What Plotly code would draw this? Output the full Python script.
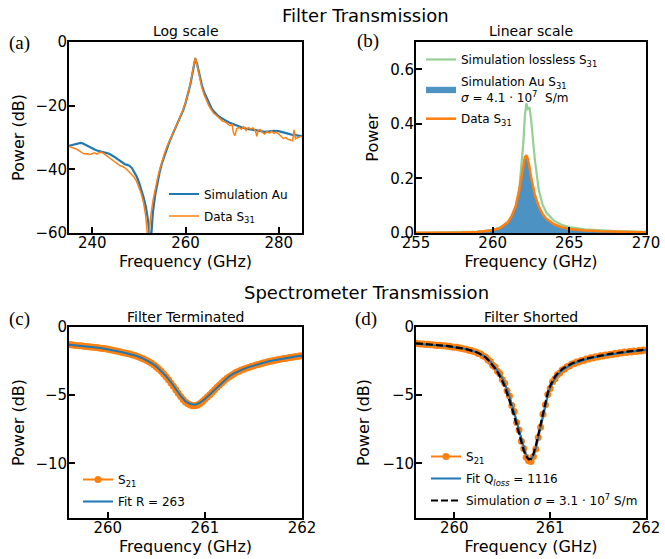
import plotly.graph_objects as go

# ---------------- Panel (a): Filter transmission, log scale ----------------
FREQ_A_SIM = [235.0, 235.5, 236.0, 236.5, 237.0, 237.5, 238.0, 238.5, 239.0, 239.5,
              240.0, 240.5, 241.0, 241.5, 242.0, 242.5, 243.0, 243.5, 244.0, 244.5,
              245.0, 245.5, 246.0, 246.5, 247.0, 247.5, 248.0, 248.5, 249.0, 249.5,
              250.0, 250.5, 251.0, 251.5, 252.0, 252.5, 253.0, 253.5, 254.0, 254.5,
              255.0, 255.5, 256.0, 256.5, 257.0, 257.5, 258.0, 258.5, 259.0, 259.5,
              260.0, 260.5, 261.0, 261.5, 262.0, 262.1, 262.5, 263.0, 263.5, 264.0,
              264.5, 265.0, 265.5, 266.0, 266.5, 267.0, 267.5, 268.0, 268.5, 269.0,
              269.5, 270.0, 271.0, 272.0, 273.0, 274.0, 275.0, 276.0, 277.0, 278.0,
              279.0, 280.0, 281.0, 282.0, 283.0, 284.0, 285.0]
SIM_AU_DB = [-32.6, -32.4, -32.2, -32.0, -31.8, -31.7, -31.9, -32.3, -32.8, -33.2,
             -33.5, -33.8, -34.1, -34.3, -34.4, -34.5, -34.7, -35.0, -35.4, -35.8,
             -36.3, -36.9, -37.5, -38.0, -38.4, -38.6, -38.9, -39.6, -40.7, -42.2,
             -44.0, -46.2, -48.8, -51.8, -56.5, -64.0, -53.5, -48.0, -43.8, -40.5,
             -37.8, -35.5, -33.5, -31.5, -29.8, -28.2, -26.6, -25.0, -23.3, -21.4,
             -19.2, -16.8, -13.6, -9.8, -5.5, -5.2, -7.0, -10.3, -13.5, -15.8,
             -17.6, -19.3, -20.6, -21.7, -22.5, -23.2, -23.7, -24.2, -24.6, -25.0,
             -25.4, -25.7, -26.3, -26.8, -27.2, -27.5, -27.8, -28.0, -28.2, -28.1,
             -27.9, -28.0, -28.3, -28.8, -29.2, -29.4, -29.6]

FREQ_A_DATA = [235.0, 235.5, 236.0, 236.5, 237.0, 237.5, 238.0, 238.5, 239.0, 239.5,
               240.0, 240.5, 241.0, 241.5, 242.0, 242.5, 243.0, 243.5, 244.0, 244.5,
               245.0, 245.5, 246.0, 246.5, 247.0, 247.5, 248.0, 248.5, 249.0, 249.5,
               250.0, 250.5, 251.0, 251.5, 252.0, 252.5, 253.0, 253.5, 254.0, 254.5,
               255.0, 255.5, 256.0, 256.5, 257.0, 257.5, 258.0, 258.5, 259.0, 259.5,
               260.0, 260.5, 261.0, 261.5, 262.0, 262.1, 262.5, 263.0, 263.5, 264.0,
               264.5, 265.0, 265.5, 266.0, 266.5, 267.0, 267.5, 268.0, 268.5, 269.0,
               269.5, 270.0, 270.3, 270.6, 271.0, 271.5, 272.0, 272.5, 273.0, 273.5,
               274.0, 274.5, 275.0, 275.3, 275.6, 276.0, 276.5, 277.0, 277.5, 278.0,
               278.5, 279.0, 279.5, 280.0, 280.5, 281.0, 281.5, 282.0, 282.5, 283.0,
               283.3, 283.6, 284.0, 284.5, 285.0]
DATA_A_DB = [-32.8, -33.0, -33.3, -33.6, -34.0, -34.6, -35.0, -35.2, -35.1, -35.3,
             -35.0, -34.8, -35.2, -34.7, -34.6, -35.0, -35.6, -36.2, -36.8, -37.4,
             -38.0, -38.6, -38.9, -39.1, -39.5, -40.2, -40.9, -41.6, -42.5, -43.8,
             -45.5, -47.6, -50.5, -55.0, -64.0, -55.0, -50.0, -46.0, -42.8, -39.8,
             -37.2, -35.0, -33.0, -31.2, -29.5, -28.0, -26.4, -24.8, -23.1, -21.2,
             -19.0, -16.6, -13.3, -9.4, -5.1, -4.9, -7.3, -10.8, -14.2, -16.6,
             -18.5, -20.0, -21.2, -22.3, -22.9, -23.6, -24.1, -24.9, -25.1, -25.8,
             -26.3, -25.9, -28.6, -29.4, -27.2, -26.8, -27.4, -26.6, -27.8, -26.9,
             -27.3, -27.0, -27.9, -29.6, -27.8, -27.5, -28.4, -28.9, -28.2, -28.6,
             -28.0, -28.7, -28.3, -28.9, -29.6, -30.3, -30.0, -30.6, -30.8, -31.0,
             -27.6, -30.4, -30.1, -29.9, -29.5]

# ---------------- Panel (b): Filter transmission, linear scale ----------------
FREQ_B = [255, 256, 257, 258, 259, 259.5, 260, 260.5, 261, 261.25, 261.5, 261.75,
          262, 262.1, 262.2, 262.3, 262.4, 262.5, 262.75, 263, 263.25, 263.5, 264,
          264.5, 265, 266, 267, 268, 269, 270]
LOSSLESS_B = [0.001, 0.002, 0.002, 0.003, 0.005, 0.008, 0.012, 0.020, 0.040, 0.062,
              0.095, 0.170, 0.330, 0.430, 0.475, 0.455, 0.460, 0.420, 0.270, 0.160,
              0.105, 0.075, 0.045, 0.030, 0.022, 0.013, 0.009, 0.007, 0.005, 0.004]
AU_B = [0.001, 0.001, 0.001, 0.002, 0.004, 0.005, 0.009, 0.017, 0.036, 0.058,
        0.092, 0.150, 0.240, 0.270, 0.275, 0.262, 0.232, 0.198, 0.135, 0.095,
        0.068, 0.050, 0.031, 0.020, 0.014, 0.008, 0.005, 0.004, 0.003, 0.003]
DATA_B = [0.001, 0.001, 0.001, 0.002, 0.004, 0.006, 0.010, 0.019, 0.040, 0.063,
          0.098, 0.160, 0.250, 0.278, 0.285, 0.270, 0.240, 0.205, 0.140, 0.098,
          0.070, 0.052, 0.032, 0.021, 0.015, 0.009, 0.006, 0.005, 0.004, 0.003]

# ---------------- Panels (c), (d): Spectrometer transmission ----------------
FREQ_CD = [259.600, 259.625, 259.650, 259.675, 259.700, 259.725, 259.750, 259.775, 259.800, 259.825,
           259.850, 259.875, 259.900, 259.925, 259.950, 259.975, 260.000, 260.025, 260.050, 260.075,
           260.100, 260.125, 260.150, 260.175, 260.200, 260.225, 260.250, 260.275, 260.300, 260.325,
           260.350, 260.375, 260.400, 260.425, 260.450, 260.475, 260.500, 260.525, 260.550, 260.575,
           260.600, 260.625, 260.650, 260.675, 260.700, 260.725, 260.750, 260.775, 260.800, 260.825,
           260.850, 260.875, 260.900, 260.925, 260.950, 260.975, 261.000, 261.025, 261.050, 261.075,
           261.100, 261.125, 261.150, 261.175, 261.200, 261.225, 261.250, 261.275, 261.300, 261.325,
           261.350, 261.375, 261.400, 261.425, 261.450, 261.475, 261.500, 261.525, 261.550, 261.575,
           261.600, 261.625, 261.650, 261.675, 261.700, 261.725, 261.750, 261.775, 261.800, 261.825,
           261.850, 261.875, 261.900, 261.925, 261.950, 261.975, 262.000]

S21_C = [-1.28, -1.31, -1.33, -1.35, -1.37, -1.37, -1.41, -1.43, -1.45, -1.46,
         -1.49, -1.51, -1.53, -1.55, -1.58, -1.60, -1.63, -1.66, -1.70, -1.74,
         -1.78, -1.81, -1.86, -1.90, -1.94, -1.98, -2.04, -2.09, -2.15, -2.21,
         -2.29, -2.37, -2.46, -2.55, -2.66, -2.79, -2.93, -3.08, -3.25, -3.44,
         -3.64, -3.86, -4.10, -4.35, -4.60, -4.86, -5.10, -5.32, -5.50, -5.63,
         -5.72, -5.78, -5.78, -5.72, -5.60, -5.46, -5.30, -5.13, -4.96, -4.78,
         -4.60, -4.42, -4.25, -4.08, -3.93, -3.78, -3.65, -3.53, -3.42, -3.32,
         -3.24, -3.16, -3.09, -3.02, -2.96, -2.90, -2.85, -2.79, -2.74, -2.69,
         -2.64, -2.60, -2.55, -2.51, -2.47, -2.43, -2.40, -2.36, -2.33, -2.30,
         -2.27, -2.24, -2.21, -2.18, -2.16, -2.13, -2.11]

FREQ_C_FIT = [259.60, 259.65, 259.70, 259.75, 259.80, 259.85, 259.90, 259.95, 260.00, 260.05,
              260.10, 260.15, 260.20, 260.25, 260.30, 260.35, 260.40, 260.45, 260.50, 260.55,
              260.60, 260.65, 260.70, 260.75, 260.80, 260.85, 260.90, 260.95, 261.00, 261.05,
              261.10, 261.15, 261.20, 261.25, 261.30, 261.35, 261.40, 261.45, 261.50, 261.55,
              261.60, 261.65, 261.70, 261.75, 261.80, 261.85, 261.90, 261.95, 262.00]
FIT_C = [-1.30, -1.33, -1.36, -1.40, -1.44, -1.48, -1.52, -1.57, -1.62, -1.69,
         -1.77, -1.85, -1.93, -2.02, -2.13, -2.27, -2.44, -2.64, -2.90, -3.22,
         -3.60, -4.05, -4.55, -5.05, -5.45, -5.65, -5.70, -5.55, -5.28, -4.95,
         -4.58, -4.22, -3.90, -3.62, -3.40, -3.22, -3.07, -2.94, -2.83, -2.72,
         -2.62, -2.53, -2.45, -2.38, -2.31, -2.25, -2.19, -2.14, -2.10]

S21_D = [-1.20, -1.22, -1.25, -1.24, -1.28, -1.27, -1.31, -1.30, -1.33, -1.35,
         -1.34, -1.38, -1.38, -1.42, -1.42, -1.46, -1.48, -1.49, -1.54, -1.55,
         -1.62, -1.63, -1.70, -1.72, -1.80, -1.83, -1.94, -1.98, -2.12, -2.20,
         -2.40, -2.52, -2.80, -2.93, -3.25, -3.43, -3.85, -4.12, -4.68, -5.05,
         -5.75, -6.20, -7.00, -7.55, -8.38, -8.90, -9.55, -9.80, -9.85, -9.50,
         -8.95, -8.10, -7.35, -6.40, -5.70, -4.95, -4.50, -4.02, -3.80, -3.50,
         -3.38, -3.16, -3.08, -2.91, -2.86, -2.72, -2.69, -2.57, -2.56, -2.45,
         -2.45, -2.35, -2.35, -2.26, -2.27, -2.18, -2.19, -2.11, -2.13, -2.05,
         -2.07, -1.99, -2.01, -1.93, -1.96, -1.88, -1.91, -1.84, -1.87, -1.80,
         -1.83, -1.76, -1.79, -1.72, -1.75, -1.69, -1.71]
FIT_D = [-1.22, -1.23, -1.24, -1.25, -1.27, -1.28, -1.29, -1.31, -1.32, -1.34,
         -1.35, -1.37, -1.39, -1.41, -1.43, -1.45, -1.47, -1.50, -1.53, -1.56,
         -1.60, -1.64, -1.68, -1.73, -1.78, -1.84, -1.91, -1.99, -2.09, -2.21,
         -2.36, -2.54, -2.74, -2.95, -3.18, -3.45, -3.76, -4.14, -4.58, -5.08,
         -5.62, -6.22, -6.88, -7.56, -8.24, -8.88, -9.38, -9.68, -9.70, -9.42,
         -8.88, -8.14, -7.30, -6.45, -5.65, -4.98, -4.45, -4.05, -3.76, -3.53,
         -3.34, -3.18, -3.05, -2.93, -2.83, -2.74, -2.66, -2.59, -2.53, -2.47,
         -2.42, -2.37, -2.32, -2.28, -2.24, -2.20, -2.16, -2.13, -2.10, -2.07,
         -2.04, -2.01, -1.98, -1.95, -1.93, -1.90, -1.88, -1.86, -1.84, -1.82,
         -1.80, -1.78, -1.76, -1.74, -1.72, -1.70, -1.68]
SIM_D = [-1.20, -1.21, -1.22, -1.24, -1.25, -1.26, -1.28, -1.29, -1.31, -1.32,
         -1.34, -1.36, -1.37, -1.39, -1.41, -1.43, -1.46, -1.48, -1.51, -1.54,
         -1.58, -1.62, -1.66, -1.71, -1.77, -1.83, -1.90, -1.99, -2.10, -2.23,
         -2.39, -2.58, -2.80, -3.04, -3.30, -3.60, -3.95, -4.36, -4.83, -5.35,
         -5.92, -6.54, -7.20, -7.88, -8.52, -9.08, -9.48, -9.70, -9.66, -9.30,
         -8.70, -7.92, -7.06, -6.22, -5.45, -4.80, -4.30, -3.92, -3.64, -3.42,
         -3.24, -3.09, -2.97, -2.86, -2.76, -2.68, -2.60, -2.53, -2.47, -2.41,
         -2.36, -2.31, -2.27, -2.23, -2.19, -2.15, -2.12, -2.09, -2.06, -2.03,
         -2.00, -1.97, -1.94, -1.92, -1.89, -1.87, -1.85, -1.83, -1.81, -1.79,
         -1.77, -1.75, -1.73, -1.71, -1.69, -1.67, -1.66]

# ---------------- tick labels ----------------
TICKS_A_X = [240, 260, 280]
TICKS_A_Y = [-60, -40, -20, 0]
TICKTEXT_A_Y = ["\u221260", "\u221240", "\u221220", "0"]
TICKS_B_X = [255, 260, 265, 270]
TICKS_B_Y = [0.0, 0.2, 0.4, 0.6]
TICKTEXT_B_Y = ["0.0", "0.2", "0.4", "0.6"]
TICKS_CD_X = [260, 261, 262]
TICKS_CD_Y = [-10, -5, 0]
TICKTEXT_CD_Y = ["\u221210", "\u22125", "0"]

BLUE = "#1f77b4"
ORANGE = "#ff7f0e"
GREEN = "rgba(44,160,44,0.5)"
FONT = "DejaVu Sans"

W, H = 665, 559


def fx(px):
    return px / W


def fy(py):
    return 1 - py / H


fig = go.Figure()

# (a)
fig.add_trace(go.Scatter(x=FREQ_A_SIM, y=SIM_AU_DB, mode="lines", name="Simulation Au",
                         line=dict(color=BLUE, width=2.2), xaxis="x", yaxis="y",
                         legend="legend", legendgroup="a1"))
fig.add_trace(go.Scatter(x=FREQ_A_DATA, y=DATA_A_DB, mode="lines", name="Data S<sub>31</sub>",
                         line=dict(color=ORANGE, width=1.5), xaxis="x", yaxis="y",
                         legend="legend", legendgroup="a2"))

# (b)
fig.add_trace(go.Scatter(x=FREQ_B, y=LOSSLESS_B, mode="lines", name="Simulation lossless S<sub>31</sub>",
                         line=dict(color=GREEN, width=2.2), xaxis="x2", yaxis="y2",
                         legend="legend2", legendgroup="b1"))
fig.add_trace(go.Scatter(x=FREQ_B, y=AU_B, mode="lines", fill="tozeroy",
                         name="Simulation Au S<sub>31</sub><br><i>\u03c3</i> = 4.1 \u00b7 10<sup>7</sup>  S/m",
                         line=dict(color="rgba(31,119,180,0.8)", width=0.5),
                         fillcolor="rgba(31,119,180,0.8)", xaxis="x2", yaxis="y2",
                         legend="legend2", legendgroup="b2"))
fig.add_trace(go.Scatter(x=FREQ_B, y=DATA_B, mode="lines", name="Data S<sub>31</sub>",
                         line=dict(color=ORANGE, width=2.5), xaxis="x2", yaxis="y2",
                         legend="legend2", legendgroup="b3"))

# (c)
fig.add_trace(go.Scatter(x=FREQ_CD, y=S21_C, mode="lines+markers", name="S<sub>21</sub>",
                         line=dict(color=ORANGE, width=2), marker=dict(color=ORANGE, size=7),
                         xaxis="x3", yaxis="y3", legend="legend3", legendgroup="c1"))
fig.add_trace(go.Scatter(x=FREQ_C_FIT, y=FIT_C, mode="lines", name="Fit R = 263",
                         line=dict(color=BLUE, width=2), xaxis="x3", yaxis="y3",
                         legend="legend3", legendgroup="c2"))

# (d)
fig.add_trace(go.Scatter(x=FREQ_CD, y=S21_D, mode="lines+markers", name="S<sub>21</sub>",
                         line=dict(color=ORANGE, width=2), marker=dict(color=ORANGE, size=7),
                         xaxis="x4", yaxis="y4", legend="legend4", legendgroup="d1"))
fig.add_trace(go.Scatter(x=FREQ_CD, y=FIT_D, mode="lines", name="Fit Q<sub><i>loss</i></sub> = 1116",
                         line=dict(color=BLUE, width=2), xaxis="x4", yaxis="y4",
                         legend="legend4", legendgroup="d2"))
fig.add_trace(go.Scatter(x=FREQ_CD, y=SIM_D, mode="lines",
                         name="Simulation <i>\u03c3</i> = 3.1 \u00b7 10<sup>7</sup> S/m",
                         line=dict(color="black", width=2.2, dash="7px,3px"),
                         xaxis="x4", yaxis="y4", legend="legend4", legendgroup="d3"))

axis_style = dict(showline=True, linecolor="black", linewidth=1.8, mirror=True,
                  ticks="inside", ticklen=6, tickwidth=1.6, tickcolor="black",
                  showgrid=False, zeroline=False, automargin=False,
                  tickfont=dict(family=FONT, size=15, color="black"))
xstyle = dict(axis_style, ticklabelstandoff=-5)
ystyle = dict(axis_style, ticklabelstandoff=-3)
title_font = dict(family=FONT, size=16, color="black")

XA = [fx(69), fx(302)]
XB = [fx(416), fx(646)]
YTOP = [fy(233), fy(42)]
YBOT = [fy(518), fy(327)]

legend_common = dict(xanchor="left", yanchor="top", bgcolor="rgba(0,0,0,0)",
                     traceorder="grouped", tracegroupgap=3,
                     font=dict(family=FONT, size=12, color="black"))

fig.update_layout(
    width=W, height=H,
    margin=dict(l=0, r=0, t=0, b=0),
    paper_bgcolor="white", plot_bgcolor="white",
    font=dict(family=FONT, size=12, color="black"),
    xaxis=dict(domain=XA, range=[235, 285], tickvals=TICKS_A_X, anchor="y",
               title=dict(text="Frequency (GHz)", font=title_font, standoff=0), **xstyle),
    yaxis=dict(domain=YTOP, range=[-60, 0], tickvals=TICKS_A_Y, ticktext=TICKTEXT_A_Y, anchor="x",
               title=dict(text="Power (dB)", font=title_font, standoff=7), **ystyle),
    xaxis2=dict(domain=XB, range=[255, 270], tickvals=TICKS_B_X, anchor="y2",
                title=dict(text="Frequency (GHz)", font=title_font, standoff=0), **xstyle),
    yaxis2=dict(domain=YTOP, range=[0, 0.7], tickvals=TICKS_B_Y, ticktext=TICKTEXT_B_Y, anchor="x2",
                title=dict(text="Power", font=title_font, standoff=8), **ystyle),
    xaxis3=dict(domain=XA, range=[259.6, 262], tickvals=TICKS_CD_X, anchor="y3",
                title=dict(text="Frequency (GHz)", font=title_font, standoff=0), **xstyle),
    yaxis3=dict(domain=YBOT, range=[-14, 0], tickvals=TICKS_CD_Y, ticktext=TICKTEXT_CD_Y, anchor="x3",
                title=dict(text="Power (dB)", font=title_font, standoff=7), **ystyle),
    xaxis4=dict(domain=XB, range=[259.6, 262], tickvals=TICKS_CD_X, anchor="y4",
                title=dict(text="Frequency (GHz)", font=title_font, standoff=0), **xstyle),
    yaxis4=dict(domain=YBOT, range=[-14, 0], tickvals=TICKS_CD_Y, ticktext=TICKTEXT_CD_Y, anchor="x4",
                title=dict(text="Power (dB)", font=title_font, standoff=9), **ystyle),
    legend=dict(x=fx(164), y=fy(179.5), **legend_common),
    legend2=dict(x=fx(421), y=fy(45), **legend_common),
    legend3=dict(x=fx(78), y=fy(465), **legend_common),
    legend4=dict(x=fx(426), y=fy(442), **legend_common),
    showlegend=True,
)

annotations = [
    dict(text="Filter Transmission", x=fx(365), y=fy(15.5), size=18, family=FONT),
    dict(text="Spectrometer Transmission", x=fx(366), y=fy(292), size=18, family=FONT),
    dict(text="Log scale", x=fx(185.5), y=fy(31), size=14, family=FONT),
    dict(text="Linear scale", x=fx(531), y=fy(31), size=14, family=FONT),
    dict(text="Filter Terminated", x=fx(185.5), y=fy(316.5), size=14, family=FONT),
    dict(text="Filter Shorted", x=fx(531), y=fy(316.5), size=14, family=FONT),
    dict(text="(a)", x=fx(19), y=fy(43), size=19, family="Liberation Serif"),
    dict(text="(b)", x=fx(368), y=fy(41), size=19, family="Liberation Serif"),
    dict(text="(c)", x=fx(19), y=fy(319), size=19, family="Liberation Serif"),
    dict(text="(d)", x=fx(366), y=fy(319), size=19, family="Liberation Serif"),
]
fig.update_layout(annotations=[
    dict(text=a["text"], x=a["x"], y=a["y"], xref="paper", yref="paper",
         xanchor="center", yanchor="middle", showarrow=False,
         font=dict(family=a["family"], size=a["size"], color="black"))
    for a in annotations
])

fig.write_html("out.html", config={"displayModeBar": False},
               post_script="document.body.style.margin='0';document.body.style.padding='0';")
